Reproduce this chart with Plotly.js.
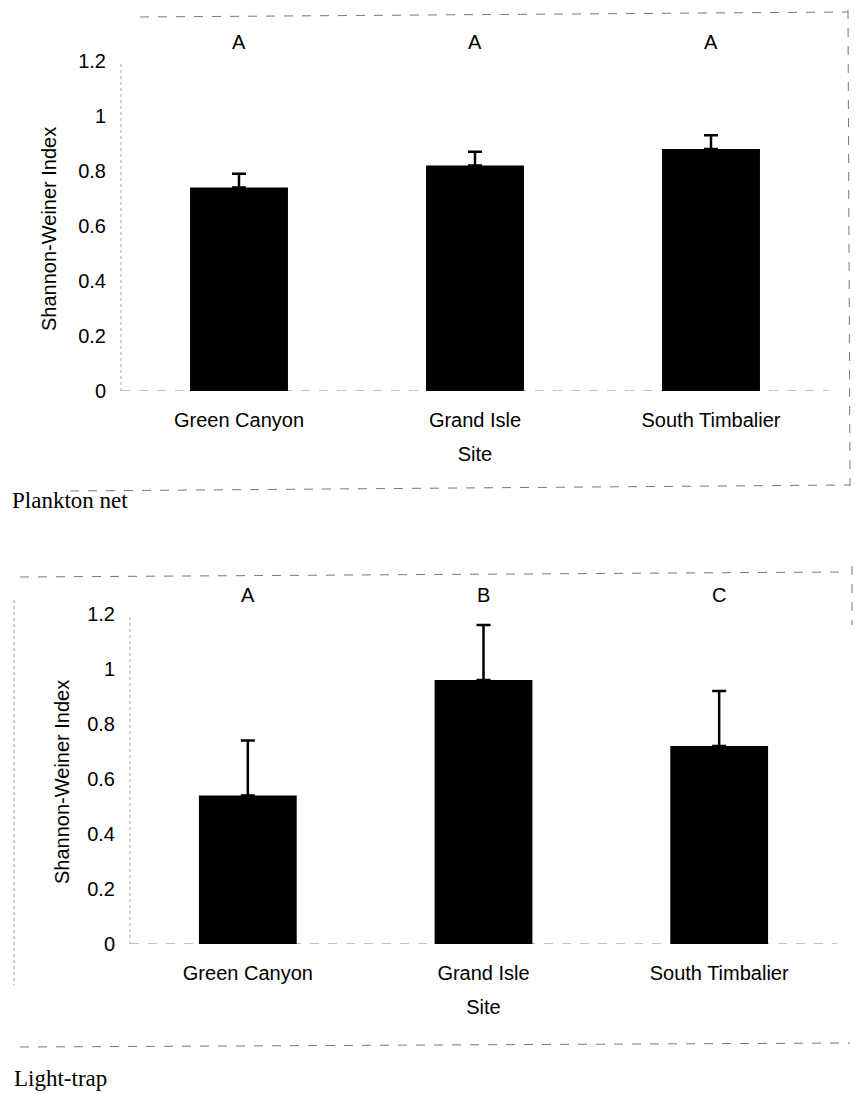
<!DOCTYPE html>
<html>
<head>
<meta charset="utf-8">
<script src="https://cdn.plot.ly/plotly-3.0.1.min.js"></script>
<style>
  html, body { margin: 0; padding: 0; background: #fff; }
  #chart { width: 855px; height: 1094px; }
</style>
</head>
<body>
<div id="chart"></div>
<script>
// ---- data ----
const sites = ['Green Canyon', 'Grand Isle', 'South Timbalier'];
const planktonMean = [0.74, 0.82, 0.88];
const planktonErr = [0.05, 0.05, 0.05];
const planktonLetters = ['A', 'A', 'A'];
const lightMean = [0.54, 0.96, 0.72];
const lightErr = [0.20, 0.20, 0.20];
const lightLetters = ['A', 'B', 'C'];
const yTickVals = [0, 0.2, 0.4, 0.6, 0.8, 1, 1.2];
const yTickText = ['0', '0.2', '0.4', '0.6', '0.8', '1', '1.2'];
const panelLabels = ['Plankton net', 'Light-trap'];
const xTitle = 'Site';
const yTitle = 'Shannon-Weiner Index';
const letterLevel = 1.27;
const yMax = 1.32;   // room above 1.2 for the significance letters

// ---- layout helpers (pixel -> paper) ----
const W = 855, H = 1094;
const px = x => x / W;
const py = y => 1 - y / H;
const unit = 275;   // pixels per 1.0 on the y axes

const sans = 'Liberation Sans, Arial, sans-serif';
const serif = 'Liberation Serif, Times New Roman, serif';

function barTrace(means, errs, xa, ya) {
  return {
    type: 'bar', x: sites, y: means, xaxis: xa, yaxis: ya,
    marker: { color: '#000', line: { width: 0 } },
    error_y: { type: 'data', array: errs, arrayminus: errs.map(() => 0), symmetric: false,
               visible: true, color: '#000', thickness: 2.5, width: 7 },
    hoverinfo: 'none'
  };
}

function xAxis(domain, anchor) {
  return {
    domain: domain, anchor: anchor, type: 'category', range: [-0.5, 2.5],
    showline: false, showgrid: false, zeroline: false, ticks: '',
    tickfont: { family: sans, size: 20, color: '#000' },
    ticklabelstandoff: 15,
    title: { text: xTitle, font: { family: sans, size: 20, color: '#000' }, standoff: 16 },
    fixedrange: true
  };
}
function yAxis(zeroPx, anchor) {
  return {
    domain: [py(zeroPx), py(zeroPx - yMax * unit)], anchor: anchor, range: [0, yMax],
    tickvals: yTickVals, ticktext: yTickText,
    showline: false, showgrid: false, zeroline: false, ticks: '',
    tickfont: { family: sans, size: 20, color: '#000' },
    ticklabelstandoff: 14,
    title: { text: '' },
    fixedrange: true
  };
}

const annotations = [];
sites.forEach((s, i) => {
  annotations.push({ x: s, y: letterLevel, xref: 'x', yref: 'y', text: planktonLetters[i],
    showarrow: false, font: { family: sans, size: 20, color: '#000' } });
  annotations.push({ x: s, y: letterLevel, xref: 'x2', yref: 'y2', text: lightLetters[i],
    showarrow: false, font: { family: sans, size: 20, color: '#000' } });
});
// y-axis titles (rotated), centred on the 0–1.2 span
annotations.push({ x: px(49), y: py(229), xref: 'paper', yref: 'paper', xanchor: 'center', yanchor: 'middle',
  textangle: -90, text: yTitle, showarrow: false, font: { family: sans, size: 20, color: '#000' } });
annotations.push({ x: px(62), y: py(782), xref: 'paper', yref: 'paper', xanchor: 'center', yanchor: 'middle',
  textangle: -90, text: yTitle, showarrow: false, font: { family: sans, size: 20, color: '#000' } });
// panel labels
annotations.push({ x: px(10), y: py(500), xref: 'paper', yref: 'paper', xanchor: 'left', yanchor: 'middle',
  text: panelLabels[0], showarrow: false, font: { family: serif, size: 23, color: '#000' } });
annotations.push({ x: px(12), y: py(1078), xref: 'paper', yref: 'paper', xanchor: 'left', yanchor: 'middle',
  text: panelLabels[1], showarrow: false, font: { family: serif, size: 23, color: '#000' } });

const frameLine = { color: '#777', width: 1, dash: 'dash' };
const axisLine = { color: '#888', width: 1, dash: 'dash' };
const yLine = { color: '#aaa', width: 1, dash: 'dot' };
const shapes = [
  // baselines and y axis lines (faint, scanned look)
  { type: 'line', xref: 'x domain', yref: 'y', x0: 0, x1: 1, y0: 0, y1: 0, line: axisLine, layer: 'below' },
  { type: 'line', xref: 'x domain', yref: 'y', x0: 0, x1: 0, y0: 0, y1: 1.2, line: yLine, layer: 'below' },
  { type: 'line', xref: 'x2 domain', yref: 'y2', x0: 0, x1: 1, y0: 0, y1: 0, line: axisLine, layer: 'below' },
  { type: 'line', xref: 'x2 domain', yref: 'y2', x0: 0, x1: 0, y0: 0, y1: 1.2, line: yLine, layer: 'below' },
  // top panel frame
  { type: 'line', xref: 'paper', yref: 'paper', x0: px(140), x1: px(848), y0: py(17), y1: py(12), line: frameLine },
  { type: 'line', xref: 'paper', yref: 'paper', x0: px(848), x1: px(850), y0: py(10), y1: py(486), line: frameLine },
  { type: 'line', xref: 'paper', yref: 'paper', x0: px(70), x1: px(850), y0: py(491), y1: py(485), line: frameLine },
  // bottom panel frame
  { type: 'line', xref: 'paper', yref: 'paper', x0: px(20), x1: px(845), y0: py(577), y1: py(572), line: frameLine },
  { type: 'line', xref: 'paper', yref: 'paper', x0: px(852), x1: px(852), y0: py(566), y1: py(625), line: frameLine },
  { type: 'line', xref: 'paper', yref: 'paper', x0: px(14), x1: px(14), y0: py(600), y1: py(985), line: { color: '#999', width: 1, dash: 'dot' } },
  { type: 'line', xref: 'paper', yref: 'paper', x0: px(20), x1: px(850), y0: py(1047), y1: py(1043), line: frameLine }
];

const layout = {
  width: W, height: H,
  margin: { l: 0, r: 0, t: 0, b: 0 },
  paper_bgcolor: '#fff', plot_bgcolor: 'rgba(0,0,0,0)',
  showlegend: false, bargap: 0.585,
  font: { family: sans, color: '#000' },
  xaxis: xAxis([px(121), px(829)], 'y'),
  yaxis: yAxis(391, 'x'),
  xaxis2: xAxis([px(130), px(837)], 'y2'),
  yaxis2: yAxis(944, 'x2'),
  annotations: annotations,
  shapes: shapes
};

Plotly.newPlot('chart', [
  barTrace(planktonMean, planktonErr, 'x', 'y'),
  barTrace(lightMean, lightErr, 'x2', 'y2')
], layout, { staticPlot: true, displayModeBar: false });
</script>
</body>
</html>
